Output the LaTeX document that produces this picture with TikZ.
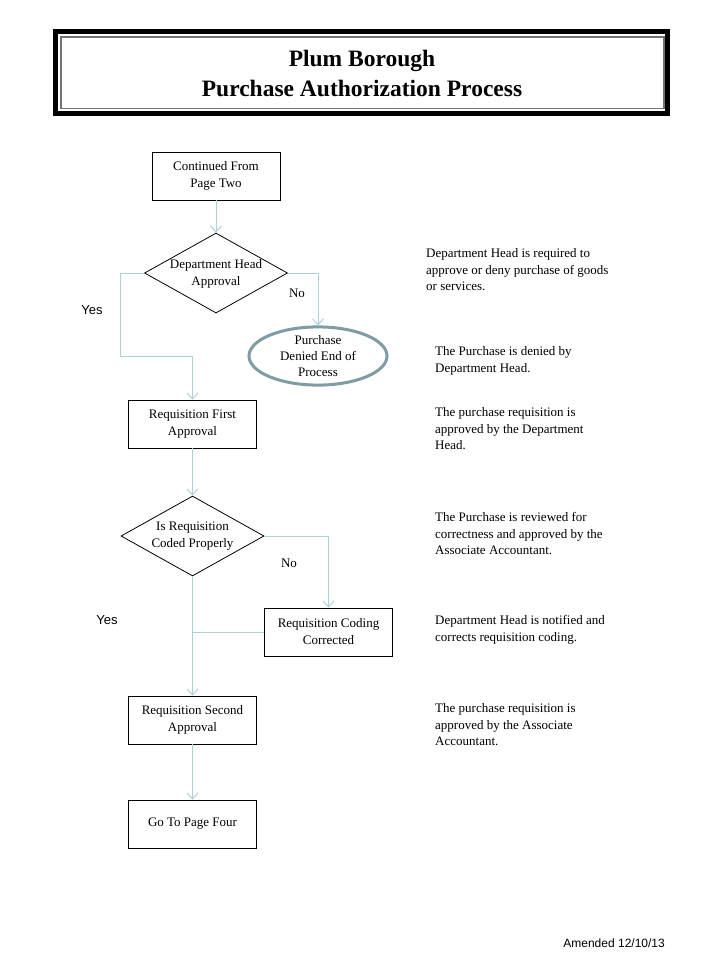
\documentclass[tikz,border=0pt]{standalone}
\usepackage{fontspec}
\setmainfont{Liberation Serif}
\setsansfont{Liberation Sans}
\usetikzlibrary{shapes.geometric,arrows.meta}
\definecolor{conn}{HTML}{A9D3DB}
\definecolor{ellc}{HTML}{7F9BA3}
\tikzset{
  procbox/.style={draw=black, line width=0.8pt, fill=white, minimum width=128pt, minimum height=48pt, inner sep=0pt, align=center, font=\fontsize{13}{17}\selectfont},
  decbox/.style={draw=black, line width=0.8pt, fill=white, diamond, minimum width=143pt, minimum height=80pt, inner sep=0pt},
  dectext/.style={align=center, inner sep=0pt, font=\fontsize{13}{17}\selectfont},
  termbox/.style={draw=ellc, line width=3pt, fill=white, ellipse, minimum width=138pt, minimum height=54pt, inner sep=0pt, align=center, font=\fontsize{13}{16}\selectfont},
  conn/.style={draw=conn, line width=1pt},
  carrow/.style={conn, -{Straight Barb[length=6pt,width=11pt,line width=1pt]}},
  note/.style={anchor=north west, align=left, inner sep=0pt, font=\fontsize{13}{16.5}\selectfont},
  lbl/.style={inner sep=0pt, font=\fontsize{13}{16}\selectfont},
  slbl/.style={inner sep=0pt, font=\sffamily\fontsize{13}{16}\selectfont},
}
\begin{document}
\begin{tikzpicture}[x=1pt,y=-1pt]
\useasboundingbox (0,0) rectangle (720,960);
\fill[white] (0,0) rectangle (720,960);
% title frame
\draw[line width=5pt, black] (55.5,31.5) rectangle (667.5,113.5);
\draw[line width=1.2pt, black!55] (61,37) rectangle (664,108.5);
\node[align=center, inner sep=0pt, font=\bfseries\fontsize{23.5}{30}\selectfont] (title) at (362,73) {Plum Borough\\Purchase Authorization Process};

% nodes
\node[procbox] (cont) at (216,176) {Continued From\\Page Two};
\node[decbox] (d1) at (216,273) {};
\node[dectext] (d1t) at (216,274) {Department Head\\Approval};
\node[termbox] (deny) at (318,356) {Purchase\\Denied End of\\Process};
\node[procbox] (rfa) at (192.5,424) {Requisition First\\Approval};
\node[decbox] (d2) at (192.5,536) {};
\node[dectext] (d2t) at (192.5,536) {Is Requisition\\Coded Properly};
\node[procbox] (rcc) at (328.5,632) {Requisition Coding\\Corrected};
\node[procbox] (rsa) at (192.5,720) {Requisition Second\\Approval};
\node[procbox] (go) at (192.5,824) {Go To Page Four};

\coordinate (j1) at (192.5,632);

% connectors
\draw[carrow] (cont.south) -- (d1.north);
\draw[carrow] (d1.west) -| (120,356) -| (rfa.north);
\draw[carrow] (d1.east) -| (deny.north);
\draw[carrow] (rfa.south) -- (d2.north);
\draw[carrow] (d2.east) -| (rcc.north);
\draw[carrow] (d2.south) -- (rsa.north);
\draw[conn] (rcc.west) -- (j1);
\draw[carrow] (rsa.south) -- (go.north);

% labels
\node[slbl] (yes1) at (92,310) {Yes};
\node[lbl] (no1) at (297,293) {No};
\node[lbl] (no2) at (289,563) {No};
\node[slbl] (yes2) at (107,620) {Yes};

% notes
\node[note] (n1) at (426,248.5) {Department Head is required to\\approve or deny purchase of goods\\or services.};
\node[note] (n2) at (435,346.5) {The Purchase is denied by\\Department Head.};
\node[note] (n3) at (435,407.5) {The purchase requisition is\\approved by the Department\\Head.};
\node[note] (n4) at (435,512.5) {The Purchase is reviewed for\\correctness and approved by the\\Associate Accountant.};
\node[note] (n5) at (435,615.5) {Department Head is notified and\\corrects requisition coding.};
\node[note] (n6) at (435,703.5) {The purchase requisition is\\approved by the Associate\\Accountant.};

\node[inner sep=0pt, anchor=east, font=\sffamily\fontsize{12}{14}\selectfont] (amend) at (665,943) {Amended 12/10/13};
\end{tikzpicture}
\end{document}
